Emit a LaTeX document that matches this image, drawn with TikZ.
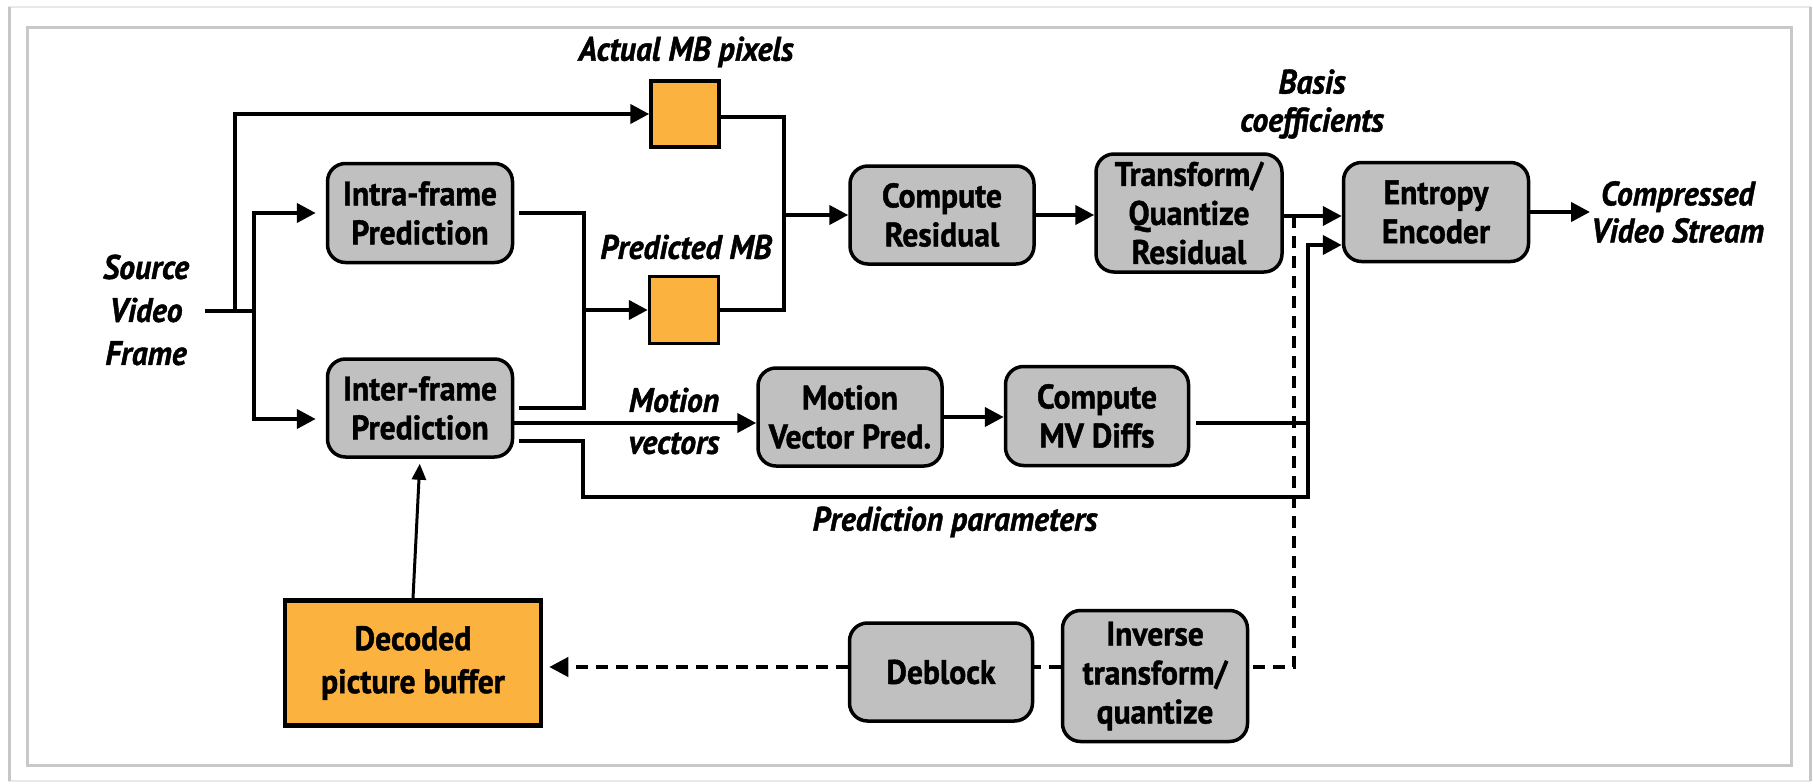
\documentclass[tikz,border=0pt]{standalone}
\usepackage{fontspec}
\setmainfont{PT Sans}[FakeStretch=0.93,BoldFeatures={FakeBold=1.2},BoldItalicFeatures={FakeBold=1.2}]
\usetikzlibrary{arrows.meta,calc}
\definecolor{boxgray}{RGB}{192,192,192}
\definecolor{mborange}{RGB}{252,178,62}
\definecolor{framegray}{RGB}{200,200,200}
\begin{document}
\begin{tikzpicture}[x=1pt,y=-1pt,
  blk/.style={draw,line width=3.5pt,fill=boxgray,rounded corners=18pt,align=center,inner sep=0pt,font=\bfseries\fontsize{34}{39}\selectfont},
  obox/.style={draw,line width=3.5pt,fill=mborange,inner sep=0pt},
  lbl/.style={align=center,inner sep=1pt,font=\bfseries\itshape\fontsize{34}{40}\selectfont},
  ln/.style={line width=4.2pt},
  arr/.style={line width=4.2pt,-{Triangle[length=19pt,width=19pt]}},
  dsh/.style={line width=4pt,dash pattern=on 12pt off 8pt},
]
\useasboundingbox (0,0) rectangle (1813,784);
% frame
\draw[line width=2pt,gray!18] (9,7) rectangle (1810,781);
\draw[line width=3pt,gray!45] (9,7) -- (9,781);
\draw[line width=3pt,gray!45] (1810,7) -- (1810,781);
\draw[line width=3pt,framegray,fill=white] (27,28) rectangle (1791,765);

% boxes
\node[blk,minimum width=185pt,minimum height=99pt] (intra) at (420,213) {Intra-frame\\Prediction};
\node[blk,minimum width=185pt,minimum height=98pt] (inter) at (420,408) {Inter-frame\\Prediction};
\node[obox,minimum width=68pt,minimum height=66pt] (actual) at (685,114) {};
\node[obox,minimum width=69pt,minimum height=67pt] (pred) at (684,310) {};
\node[blk,minimum width=184pt,minimum height=98pt] (cr) at (942,215) {Compute\\Residual};
\node[blk,minimum width=186pt,minimum height=118pt] (tq) at (1189,213) {Transform/\\Quantize\\Residual};
\node[blk,minimum width=185pt,minimum height=99pt] (ent) at (1436,212) {Entropy\\Encoder};
\node[blk,minimum width=184pt,minimum height=98pt] (mvp) at (850,417) {Motion\\Vector Pred.};
\node[blk,minimum width=183pt,minimum height=99pt] (mvd) at (1097,416) {Compute\\MV Diffs};
\node[obox,line width=4.5pt,minimum width=256pt,minimum height=125pt,align=center,font=\bfseries\fontsize{34}{43}\selectfont] (dpb) at (413,663) {Decoded\\picture buffer};
\node[blk,minimum width=183pt,minimum height=98pt] (deb) at (941,672) {Deblock};
\node[blk,minimum width=185pt,minimum height=131pt] (inv) at (1155,676) {Inverse\\transform/\\quantize};

% labels
\node[lbl,font=\bfseries\itshape\fontsize{34}{43}\selectfont] (src) at (146,310) {Source\\Video\\Frame};
\node[lbl] (actlbl) at (686,52) {Actual MB pixels};
\node[lbl] (predlbl) at (686,247) {Predicted MB};
\node[lbl,font=\bfseries\itshape\fontsize{34}{38}\selectfont] (basis) at (1312,104) {Basis\\coefficients};
\node[lbl,font=\bfseries\itshape\fontsize{34}{42}\selectfont] (mvlbl) at (674,421) {Motion\\vectors};
\node[lbl] (pplbl) at (955,522) {Prediction parameters};
\node[lbl,anchor=west,font=\bfseries\itshape\fontsize{34}{37}\selectfont] (out) at (1590,212) {Compressed\\Video Stream};

% junction coordinates
\coordinate (s0) at (205,311);
\coordinate (j1) at (235,311);
\coordinate (j2) at (254,311);
\coordinate (k) at (584,310);
\coordinate (r) at (784,215);
\coordinate (p1) at (583,497);
\coordinate (p2) at (1308,497);
\coordinate (d1) at (1294,216);

% source branches
\draw[ln] (s0) -- (j2);
\draw[arr] (j1) |- (actual.west);
\draw[arr,shorten >=10pt] (j2) |- (intra.west);
\draw[arr,shorten >=10pt] (j2) |- ([yshift=-11pt]inter.west);

% predictions to predicted MB
\draw[ln] ([xshift=5pt]intra.east) -| (k);
\draw[ln] ([xshift=5pt]inter.east) -| (k);
\draw[arr] (k) -- (pred.west);

% MBs to compute residual
\draw[ln] ([yshift=-3pt]actual.east) -| (r) |- (pred.east);
\draw[arr] (r) -- (cr.west |- r);

% main chain
\draw[arr] (cr.east) -- (tq.west |- cr.east);
\draw[arr] ([yshift=-3pt]tq.east) -- ([yshift=-3pt]tq.east -| ent.west);
\draw[arr] (ent.east) -- (out.west);

% motion vectors
\draw[arr] ([yshift=-15pt]inter.east) -- ([yshift=-15pt]inter.east -| mvp.west);
\draw[arr] (mvp.east) -- (mvd.west |- mvp.east);
\draw[ln] ([xshift=6pt,yshift=-7pt]mvd.east) -- ([yshift=-7pt]mvd.east -| p2);

% prediction parameters
\draw[arr] ([xshift=5pt,yshift=-33pt]inter.east) -| (p1) -- (p2) |- ([yshift=-33pt]ent.west);

% reconstruction loop
\draw[dsh] (d1) |- ([yshift=9pt]inv.east);
\draw[dsh] ([yshift=9pt]inv.west) -- ([yshift=9pt]inv.west -| deb.east);
\draw[dsh,-{Triangle[length=19pt,width=19pt]},shorten >=6pt] ([yshift=5pt]deb.west) -- ([yshift=5pt]deb.west -| dpb.east);
\draw[line width=3pt,-{Triangle[length=16pt,width=14pt]},shorten >=5pt] (dpb.north) -- (inter.south);
\end{tikzpicture}
\end{document}
